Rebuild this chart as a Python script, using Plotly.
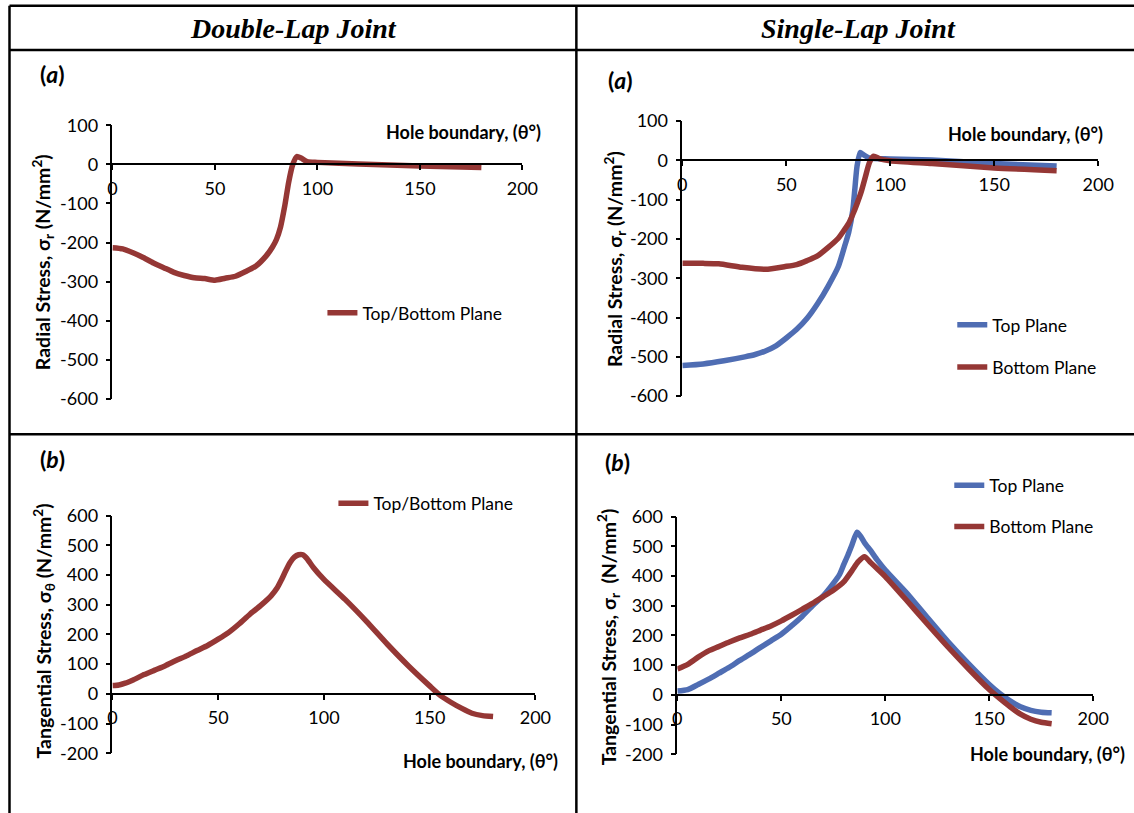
import plotly.graph_objects as go

W, H = 1134, 813          # reference picture size
# measured placement of the rendered figure in the photographed page
AX, BX = 0.982, 4.5
AY, BY = 0.970, 13.2
FW, FH = 1152, 826        # figure size covering the whole picture after that placement

# ---------------- data ----------------
# (a) Double-lap radial stress
theta_dl_r = [0, 5, 10, 15, 20, 25, 30, 35, 40, 45, 50, 55, 60, 65, 70, 75, 78, 80, 82, 84, 86, 88, 90, 92, 95, 100, 120, 150, 180]
sr_dl = [-213, -216, -226, -238, -252, -264, -276, -284, -290, -292, -296, -291, -286, -274, -260, -234, -212, -192, -160, -108, -45, 0, 20, 16, 7, 5, 1, -4, -8]

# (a) Single-lap radial stress
theta_sl_r_top = [0, 10, 20, 30, 35, 40, 45, 50, 55, 60, 65, 70, 75, 78, 80, 82, 83, 84, 85.5, 87, 90, 100, 120, 150, 180]
sr_sl_top = [-522, -518, -510, -500, -494, -485, -472, -452, -430, -402, -365, -321, -270, -219, -183, -125, -70, -15, 20, 15, 6, 4, 1, -8, -14]
theta_sl_r_bot = [0, 10, 17.5, 28.7, 40, 49.5, 55, 60, 65, 70, 75, 78, 80, 82, 84, 86, 88, 90, 92, 95, 100, 120, 150, 180]
sr_sl_bot = [-262, -262, -263, -272, -277, -270, -265, -255, -243, -222, -198, -176, -160, -137, -110, -80, -42, -5, 11, 4, -1, -8, -19, -26]

# (b) Double-lap tangential stress
theta_dl_t = [0, 3, 6, 10, 15, 20, 25, 30, 35, 40, 45, 50, 55, 60, 65, 70, 75, 78, 80, 82, 84, 86, 88, 90, 92, 95, 100, 110, 120, 130, 140, 150, 155, 160, 165, 170, 175, 180]
st_dl = [28, 30, 36, 48, 65, 80, 95, 112, 128, 146, 163, 184, 207, 236, 268, 297, 330, 358, 385, 415, 442, 460, 468, 468, 455, 425, 385, 318, 245, 167, 94, 27, -5, -28, -48, -65, -73, -76]

# (b) Single-lap tangential stress
theta_sl_t_top = [0, 5, 10, 15, 20, 25, 30, 35, 40, 45, 50, 55, 60, 65, 70, 75, 78, 80, 82, 84, 86.4, 88, 90, 93, 96, 100, 110, 120, 130, 140, 150, 155, 160, 165, 170, 175, 180]
st_sl_top = [13, 18, 35, 53, 73, 93, 116, 137, 160, 182, 204, 233, 264, 300, 332, 375, 405, 438, 470, 505, 547, 535, 512, 485, 455, 420, 345, 262, 180, 105, 35, 5, -20, -40, -52, -58, -60]
theta_sl_t_bot = [0, 5, 10, 15, 20, 25, 30, 35, 40, 45, 50, 55, 60, 65, 70, 75, 80, 84, 87, 90, 93, 96, 100, 110, 120, 130, 140, 150, 155, 160, 165, 170, 175, 180]
st_sl_bot = [87, 103, 127, 148, 163, 178, 192, 204, 218, 232, 249, 268, 288, 308, 330, 352, 380, 418, 448, 465, 445, 425, 398, 320, 240, 162, 88, 18, -12, -40, -65, -82, -92, -97]

# tick labels
x_ticks = [0, 50, 100, 150, 200]
x_tick_text = ["0", "50", "100", "150", "200"]
y_ticks_radial = [-600, -500, -400, -300, -200, -100, 0, 100]
y_tick_text_radial = ["-600", "-500", "-400", "-300", "-200", "-100", "0", "100"]
y_ticks_tang = [-200, -100, 0, 100, 200, 300, 400, 500, 600]
y_tick_text_tang = ["-200", "-100", "0", "100", "200", "300", "400", "500", "600"]

RED = "#953735"
BLUE = "#4F6DB3"
FONT = "Lato"
LW = 5.5
TICK = 18


def px(x):
    return (x - BX) / AX / FW


def py(y):
    return 1 - (y - BY) / AY / FH


# panel geometry in reference pixels
panels = {
    1: dict(x0=112, x1=522, yt=126, yb=399, yr=[-600, 100], tv=y_ticks_radial, tt=y_tick_text_radial),
    2: dict(x0=682, x1=1098, yt=122, yb=396, yr=[-600, 100], tv=y_ticks_radial, tt=y_tick_text_radial),
    3: dict(x0=112, x1=535, yt=515, yb=752, yr=[-200, 600], tv=y_ticks_tang, tt=y_tick_text_tang),
    4: dict(x0=677, x1=1093, yt=516, yb=753, yr=[-200, 600], tv=y_ticks_tang, tt=y_tick_text_tang),
}

fig = go.Figure()


def add(i, x, y, color, name, legend):
    sfx = "" if i == 1 else str(i)
    fig.add_trace(go.Scatter(
        x=x, y=y, mode="lines", name=name, showlegend=True,
        line=dict(color=color, width=LW, shape="spline", smoothing=0.6),
        xaxis="x" + sfx, yaxis="y" + sfx, legend=legend, hoverinfo="skip"))


add(1, theta_dl_r, sr_dl, RED, "Top/Bottom Plane", "legend2")
add(2, theta_sl_r_top, sr_sl_top, BLUE, "Top Plane", "legend3")
add(2, theta_sl_r_bot, sr_sl_bot, RED, "Bottom Plane", "legend4")
add(3, theta_dl_t, st_dl, RED, "Top/Bottom Plane", "legend5")
add(4, theta_sl_t_top, st_sl_top, BLUE, "Top Plane", "legend6")
add(4, theta_sl_t_bot, st_sl_bot, RED, "Bottom Plane", "legend7")

layout = dict(
    width=FW, height=FH, showlegend=True,
    margin=dict(l=0, r=0, t=0, b=0),
    paper_bgcolor="white", plot_bgcolor="rgba(0,0,0,0)",
    font=dict(family=FONT, size=TICK, color="black"),
)

for i, p in panels.items():
    sfx = "" if i == 1 else str(i)
    ydom = [py(p["yb"]), py(p["yt"])]
    y0, y1 = p["yr"]
    pos = ydom[0] + (0 - y0) / (y1 - y0) * (ydom[1] - ydom[0])
    layout["xaxis" + sfx] = dict(
        domain=[px(p["x0"]), px(p["x1"])], range=[0, 200], anchor="free", position=pos,
        tickvals=x_ticks, ticktext=x_tick_text, showline=True, linecolor="black", linewidth=1.5,
        ticks="outside", ticklen=5, tickcolor="black", tickwidth=1.5, showgrid=False,
        zeroline=False, tickfont=dict(family=FONT, size=TICK, color="black"), ticklabelstandoff=3)
    layout["yaxis" + sfx] = dict(
        domain=ydom, range=p["yr"], anchor="x" + sfx, tickvals=p["tv"], ticktext=p["tt"],
        showline=True, linecolor="black", linewidth=1.5, ticks="outside", ticklen=5,
        tickcolor="black", tickwidth=1.5, showgrid=False, zeroline=False,
        tickfont=dict(family=FONT, size=TICK, color="black"), ticklabelstandoff=4)


def leg(x, y):
    return dict(x=px(x), y=py(y), xanchor="left", yanchor="middle", bgcolor="rgba(0,0,0,0)",
                font=dict(family=FONT, size=17.5, color="black"), itemwidth=30, visible=True)


layout["legend2"] = leg(322, 313)
layout["legend3"] = leg(952, 325)
layout["legend4"] = leg(952, 367)
layout["legend5"] = leg(333, 503)
layout["legend6"] = leg(949, 485)
layout["legend7"] = leg(949, 526)

fig.update_layout(**layout)

# table borders
bk = dict(color="black", width=2.5)
lines = [
    (9, 7, W + 20, 7), (9, 51, W + 20, 51), (9, 434, W + 20, 434),
    (9, 7, 9, H + 20), (576, 7, 576, H + 20),
]
for x0, y0, x1, y1 in lines:
    fig.add_shape(type="line", xref="paper", yref="paper", x0=px(x0), y0=py(y0), x1=px(x1), y1=py(y1), line=bk)

ann = []
# headers
for x, t in [(293, "Double-Lap Joint"), (858, "Single-Lap Joint")]:
    ann.append(dict(x=px(x), y=py(30), xref="paper", yref="paper", text="<b><i>" + t + "</i></b>",
                    showarrow=False, font=dict(family="Liberation Serif", size=28, color="black"),
                    xanchor="center", yanchor="middle"))
# panel labels
for x, y, t in [(52, 75, "a"), (620, 81, "a"), (52, 459, "b"), (617, 462, "b")]:
    ann.append(dict(x=px(x), y=py(y), xref="paper", yref="paper", text="<b>(<i>" + t + "</i>)</b>",
                    showarrow=False, font=dict(family=FONT, size=23, color="black"),
                    xanchor="center", yanchor="middle"))
# x titles
for x, y in [(543, 133), (1105, 135), (560, 760), (1127, 753)]:
    ann.append(dict(x=px(x), y=py(y), xref="paper", yref="paper", text="<b>Hole boundary, (θ°)</b>",
                    showarrow=False, font=dict(family=FONT, size=18, color="black"),
                    xanchor="right", yanchor="middle"))
# y titles
ytitles = [
    (42, 262, "<b>Radial Stress, σ<sub>r</sub> (N/mm<sup>2</sup>)</b>"),
    (614, 259, "<b>Radial Stress, σ<sub>r</sub> (N/mm<sup>2</sup>)</b>"),
    (43, 630, "<b>Tangential Stress, σ<sub>θ</sub> (N/mm<sup>2</sup>)</b>"),
    (608, 636, "<b>Tangential Stress, σ<sub>r</sub>  (N/mm<sup>2</sup>)</b>"),
]
for x, y, t in ytitles:
    ann.append(dict(x=px(x), y=py(y), xref="paper", yref="paper", text=t, textangle=-90,
                    showarrow=False, font=dict(family=FONT, size=19.5, color="black"),
                    xanchor="center", yanchor="middle"))
fig.update_layout(annotations=ann)

fig.write_html("out.html", config={"displayModeBar": False})
